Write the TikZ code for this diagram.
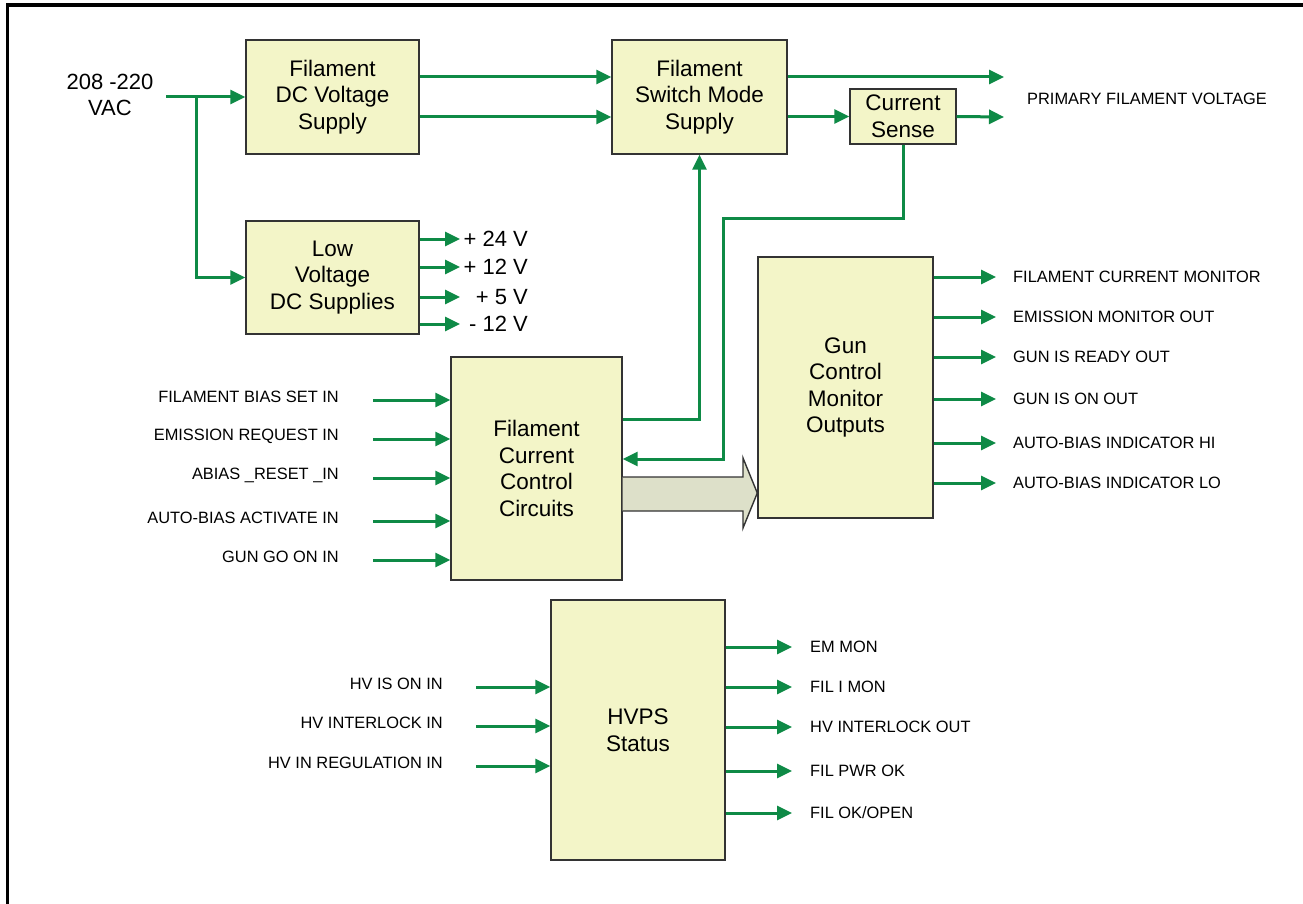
\documentclass[tikz,border=0pt]{standalone}
\usepackage{fontspec}
\setmainfont{Liberation Sans}
\usetikzlibrary{arrows.meta}
\definecolor{ink}{HTML}{333333}
\definecolor{boxfill}{HTML}{F3F5C8}
\definecolor{wire}{HTML}{0E8A46}
\definecolor{busfill}{HTML}{DDE0C9}
\tikzset{
  >={Triangle[length=15pt,width=14pt]},
  box/.style={draw=ink,fill=boxfill,line width=1.4pt,align=center,inner sep=2pt,
    font=\fontsize{22.5}{26.5}\selectfont},
  flow/.style={->,draw=wire,line width=3pt},
  sig/.style={inner sep=0pt,font=\fontsize{16.4}{19}\selectfont},
  volt/.style={inner sep=0pt,font=\fontsize{22}{26}\selectfont},
  bus/.style={draw=ink,fill=busfill,line width=1.4pt,line join=miter},
  rim/.style={draw=black,line width=3.4pt}
}
\begin{document}
\begin{tikzpicture}[x=1pt,y=-1pt]
  \useasboundingbox (0,0) rectangle (1303,904);
  \draw[rim] (7.5,904) -- (7.5,5) -- (1303,5);

  \node[box,minimum width=173pt,minimum height=114pt] (fdc) at (332.5,97) {Filament\\DC Voltage\\Supply};
  \node[box,minimum width=173pt,minimum height=113pt] (lvs) at (332.5,277.5) {Low\\Voltage\\DC Supplies};
  \node[box,minimum width=175pt,minimum height=114pt] (sms) at (699.5,97) {Filament\\Switch Mode\\Supply};
  \node[box,minimum width=106pt,minimum height=55pt] (cs) at (903,116.5) {Current\\Sense};
  \node[box,minimum width=171pt,minimum height=223pt] (fcc) at (536.5,468.5) {Filament\\Current\\Control\\Circuits};
  \node[box,minimum width=175pt,minimum height=261pt] (gcm) at (845.5,387.5) {Gun\\Control\\Monitor\\Outputs};
  \node[box,minimum width=174pt,minimum height=260pt] (hvps) at (638,730) {HVPS\\Status};

  % mains in
  \node[volt,align=center] (vac) at (110,95) {208 -220\\VAC};
  \coordinate (ac) at (166,97);
  \coordinate (split) at (196,97);
  \draw[flow] (ac) -- (fdc.west);
  \draw[flow] (split) |- (lvs.west);

  % filament power path
  \draw[flow] (fdc.east |- 0,77) -- (sms.west |- 0,77);
  \draw[flow] (fdc.east |- 0,117) -- (sms.west |- 0,117);
  \coordinate (pfv1) at (1004,77);
  \coordinate (pfv2) at (1004,117);
  \draw[flow] (sms.east |- pfv1) -- (pfv1);
  \draw[flow] (sms.east |- cs) -- (cs.west);
  \draw[flow] (cs.east) -- (pfv2);
  \node[sig,anchor=west] (pfv) at (1027,99) {PRIMARY FILAMENT VOLTAGE};

  % control loop
  \draw[flow] (fcc.east |- 0,419) -| (sms.south);
  \draw[flow] (cs.south) |- (723,218) |- (fcc.east |- 0,459);
  \draw[bus] (fcc.east |- 0,477) -- (743,477) -- (743,458) -- (gcm.west |- 0,493)
    -- (743,528) -- (743,511) -- (fcc.east |- 0,511);

  % low voltage rails
  \foreach \y/\t [count=\i] in {239/+ 24 V,267/+ 12 V,297/+ 5 V,324/- 12 V}{
    \coordinate (lv\i) at (460,\y);
    \node[volt,anchor=east] (lvt\i) at (528,\y) {\t};
    \draw[flow] (lvs.east |- lv\i) -- (lv\i);
  }

  % filament control inputs
  \foreach \y/\t [count=\i] in {400/FILAMENT BIAS SET IN,439/EMISSION REQUEST IN,
      478/ABIAS \_RESET \_IN,521/AUTO-BIAS ACTIVATE IN,560/GUN GO ON IN}{
    \coordinate (fin\i) at (373,\y);
    \node[sig,anchor=east] (fint\i) at (339,\y-3) {\t};
    \draw[flow] (fin\i) -- (fin\i -| fcc.west);
  }

  % gun monitor outputs
  \foreach \y/\t [count=\i] in {277/FILAMENT CURRENT MONITOR,317/EMISSION MONITOR OUT,
      357/GUN IS READY OUT,399/GUN IS ON OUT,443/AUTO-BIAS INDICATOR HI,483/AUTO-BIAS INDICATOR LO}{
    \coordinate (gout\i) at (996,\y);
    \node[sig,anchor=west] (goutt\i) at (1013,\y) {\t};
    \draw[flow] (gcm.east |- gout\i) -- (gout\i);
  }

  % hvps inputs and outputs
  \foreach \y/\t [count=\i] in {687/HV IS ON IN,726/HV INTERLOCK IN,766/HV IN REGULATION IN}{
    \coordinate (hin\i) at (476,\y);
    \node[sig,anchor=east] (hint\i) at (443,\y-3) {\t};
    \draw[flow] (hin\i) -- (hin\i -| hvps.west);
  }
  \foreach \y/\t [count=\i] in {647/EM MON,687/FIL I MON,727/HV INTERLOCK OUT,771/FIL PWR OK,813/{FIL OK/OPEN}}{
    \coordinate (hout\i) at (792,\y);
    \node[sig,anchor=west] (houtt\i) at (810,\y) {\t};
    \draw[flow] (hvps.east |- hout\i) -- (hout\i);
  }
\end{tikzpicture}
\end{document}
